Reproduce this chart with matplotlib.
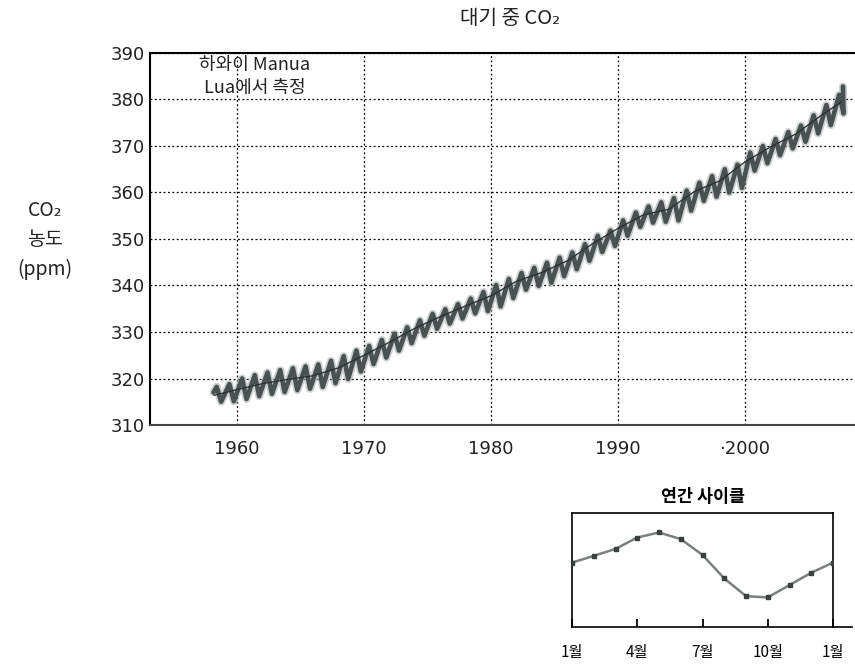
import matplotlib
matplotlib.use("Agg")
import matplotlib.pyplot as plt
from matplotlib.lines import Line2D

plt.rcParams['font.family'] = ['Noto Sans CJK KR', 'DejaVu Sans']

# ---------------- data ----------------
years = list(range(1958, 2008))
peaks = [318.2, 318.8, 320.0, 320.7, 321.3, 321.8, 322.2, 322.6, 323.0, 323.8,
         324.8, 326.0, 327.0, 328.3, 329.6, 331.0, 332.5, 333.9, 334.9, 336.0,
         337.2, 338.6, 340.1, 341.4, 342.7, 343.8, 344.9, 346.0, 347.1, 348.9,
         350.7, 351.8, 354.0, 355.7, 357.0, 357.9, 358.8, 360.4, 362.1, 363.5,
         365.0, 366.0, 368.6, 370.0, 371.5, 373.0, 374.4, 376.6, 378.8, 381.0]
troughs = [315.0, 315.1, 315.6, 316.2, 316.7, 317.1, 317.5, 317.8, 318.2, 319.0,
           319.9, 321.5, 323.1, 324.5, 326.0, 327.6, 329.2, 330.7, 331.8, 332.9,
           334.0, 334.5, 335.5, 337.3, 339.1, 339.9, 340.6, 342.0, 343.5, 345.3,
           347.2, 348.5, 350.7, 352.6, 353.5, 353.7, 354.0, 356.1, 358.2, 359.1,
           360.0, 361.0, 364.7, 366.3, 368.0, 369.5, 370.9, 372.7, 374.5, 377.0]
start_point = (1958.15, 317.0)
end_point = (2007.7, 382.8)

trend_years = [1958.2, 1960, 1962, 1964, 1966, 1968, 1970, 1972, 1974, 1976, 1978,
               1980, 1982, 1984, 1986, 1988, 1990, 1992, 1994, 1996, 1998,
               2000, 2002, 2004, 2006, 2007.6]
trend_vals = [316.4, 317.6, 318.9, 319.8, 320.6, 322.3, 325.0, 327.8, 330.8, 333.3,
              335.6, 337.8, 340.9, 342.8, 345.3, 349.0, 352.3, 355.2, 356.4,
              360.2, 362.5, 366.6, 369.8, 372.6, 376.6, 379.5]

xticks = [1960, 1970, 1980, 1990, 2000]
xtick_labels = ['1960', '1970', '1980', '1990', '\u00b72000']
yticks = [310, 320, 330, 340, 350, 360, 370, 380, 390]

months = list(range(13))
cycle_vals = [0.65, 1.24, 1.85, 2.85, 3.29, 2.71, 1.32, -0.74, -2.29, -2.41,
              -1.32, -0.24, 0.65]
month_ticks = [0, 3, 6, 9, 12]
month_labels = ['1월', '4월', '7월', '10월', '1월']

PEAK_FRAC = 0.4
TROUGH_FRAC = 0.75

# ---------------- figure ----------------
fig = plt.figure(figsize=(8.55, 6.64), dpi=100)
ax = fig.add_axes([150/855, 1-425/664, 705/855, 372/664])

xs = [start_point[0]]
ys = [start_point[1]]
for yr, p, t in zip(years, peaks, troughs):
    xs += [yr + PEAK_FRAC, yr + TROUGH_FRAC]
    ys += [p, t]
xs.append(end_point[0])
ys.append(end_point[1])

ax.plot(xs, ys, color='#a4aaaa', lw=5.8, alpha=0.55, solid_joinstyle='round',
        solid_capstyle='round', zorder=3)
ax.plot(xs, ys, color='#4a5151', lw=3.3, solid_joinstyle='round',
        solid_capstyle='round', zorder=4)
ax.plot(trend_years, trend_vals, color='#2a2f2f', lw=0.9, zorder=5)

ax.set_xlim(1953.15, 2008.65)
ax.set_ylim(310, 390)
ax.set_xticks(xticks)
ax.set_xticklabels(xtick_labels, family='DejaVu Sans', fontsize=13)
ax.set_yticks(yticks)
ax.set_yticklabels([str(v) for v in yticks], family='DejaVu Sans', fontsize=13)
ax.tick_params(axis='x', length=0, pad=11, colors='#222222')
ax.tick_params(axis='y', length=0, pad=4, colors='#222222')
ax.grid(True, color='black', linestyle=(0, (1.5, 2)), lw=0.9)
ax.spines['right'].set_visible(False)
for s in ['left', 'top', 'bottom']:
    ax.spines[s].set_linewidth(1.5)
ax.spines['bottom'].set_color('#444444')

ax.text(0.149, 0.937, '하와이 Manua\nLua에서 측정', transform=ax.transAxes,
        ha='center', va='center', fontsize=13, linespacing=1.3, color='#222222')

fig.text(510/855, 1-18/664, '대기 중 CO₂', ha='center', va='center', fontsize=14.5,
         color='#222222')
fig.text(45/855, 1-240/664, 'CO₂\n농도\n(ppm)', ha='center', va='center',
         fontsize=14, linespacing=1.5, color='#222222')

# ---------------- inset ----------------
ax2 = fig.add_axes([572/855, 1-627/664, 261/855, 114/664])
ax2.plot(months, cycle_vals, color='#7a7f7f', lw=1.8, marker='s', markersize=3.5,
         markerfacecolor='#3a3f3f', markeredgecolor='#3a3f3f', zorder=3)
ax2.set_xlim(0, 12)
ax2.set_ylim(-5, 5)
ax2.set_yticks([])
ax2.set_xticks(month_ticks)
ax2.set_xticklabels(month_labels, fontsize=11)
ax2.tick_params(axis='x', direction='in', length=6, width=1.3, pad=12)
for s in ax2.spines.values():
    s.set_linewidth(1.2)
ax2.set_title('연간 사이클', fontsize=12.5, fontweight='bold', pad=8)
fig.add_artist(Line2D([833/855, 852/855], [1-627/664, 1-627/664],
                      color='black', lw=1.2))

fig.savefig('out.png', dpi=100)
